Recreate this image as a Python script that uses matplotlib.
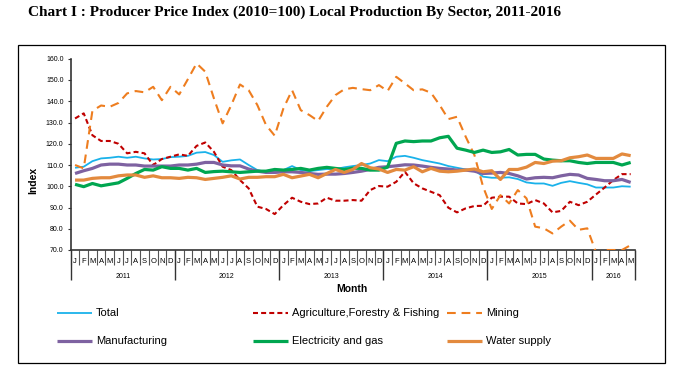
import matplotlib
matplotlib.use("Agg")
import matplotlib.pyplot as plt
from matplotlib.lines import Line2D
from matplotlib.patches import Rectangle
import numpy as np

# ---------------------------------------------------------------
# data, Jan 2011 .. May 2016 (65 months)
years = ["2011", "2012", "2013", "2014", "2015", "2016"]
months_per_year = [12, 12, 12, 12, 12, 5]
month_letters = ["J", "F", "M", "A", "M", "J", "J", "A", "S", "O", "N", "D"]

total = [108.7, 109.2, 111.8, 113.1, 113.4, 113.9, 113.4, 113.9, 113.1, 112.6, 112.8, 113.7,
         113.9, 114.3, 115.8, 116.1, 114.7, 111.5, 112.2, 112.6, 110.0, 107.6, 106.8, 106.8,
         107.6, 109.5, 107.6, 107.1, 107.6, 108.1, 108.1, 108.9, 109.5, 110.0, 110.7, 112.3,
         111.8, 113.9, 114.3, 113.4, 112.3, 111.5, 110.7, 109.5, 108.7, 107.9, 107.6, 104.5,
         104.0, 104.0, 104.2, 103.4, 101.8, 101.3, 101.3, 100.2, 101.6, 102.4, 101.6, 100.9,
         99.4, 99.4, 99.4, 100.0, 99.8]
agriculture = [131.9, 134.3, 124.0, 121.3, 121.3, 120.0, 115.5, 116.2, 115.5, 110.0, 112.8, 113.9,
               115.0, 114.3, 119.0, 120.6, 116.2, 109.2, 107.6, 102.9, 99.0, 90.4, 89.3, 86.9,
               91.1, 94.6, 92.7, 91.6, 91.9, 94.6, 93.2, 93.2, 93.5, 93.2, 98.2, 100.1,
               99.8, 102.1, 106.8, 101.4, 99.0, 97.4, 95.8, 89.9, 87.7, 89.6, 90.7, 90.8,
               94.6, 95.1, 95.1, 91.9, 91.6, 93.5, 91.9, 87.7, 88.4, 92.7, 91.1, 92.7,
               96.1, 99.4, 102.9, 105.7, 105.7]
mining = [110.0, 108.4, 135.5, 138.0, 137.4, 139.2, 143.7, 144.8, 144.2, 146.8, 140.5, 146.8,
          143.2, 150.4, 157.8, 153.9, 141.3, 129.6, 138.2, 147.9, 145.2, 138.2, 128.8, 123.8,
          136.6, 145.2, 135.8, 133.5, 130.7, 137.4, 142.9, 145.6, 146.3, 145.7, 145.2, 147.6,
          144.8, 151.5, 148.4, 145.2, 145.6, 144.0, 138.2, 131.6, 132.7, 123.3, 114.7, 99.8,
          89.3, 95.8, 91.9, 98.2, 94.3, 81.0, 80.2, 77.8, 81.0, 83.8, 79.5, 80.2,
          69.0, 70.0, 70.0, 70.0, 72.3]
manufacturing = [106.0, 107.3, 108.4, 110.0, 110.4, 110.4, 110.0, 110.0, 109.5, 109.5, 109.5, 109.5,
                 110.0, 110.0, 110.4, 111.2, 111.2, 110.0, 109.6, 109.6, 108.1, 107.1, 106.5, 106.5,
                 106.8, 106.8, 106.5, 106.0, 105.6, 105.7, 105.7, 106.0, 106.5, 107.1, 107.9, 108.9,
                 109.2, 109.6, 110.1, 110.0, 109.5, 108.9, 108.4, 108.1, 107.6, 107.6, 107.1, 106.0,
                 106.2, 106.5, 106.0, 104.9, 103.4, 104.0, 104.2, 104.0, 104.9, 105.6, 105.3, 103.7,
                 103.2, 102.6, 102.6, 103.2, 101.8]
electricity = [100.9, 99.8, 101.3, 100.2, 100.9, 101.6, 103.7, 106.0, 107.9, 107.6, 109.2, 108.4,
               108.4, 107.6, 108.4, 106.5, 106.9, 107.1, 106.8, 106.5, 106.8, 107.1, 107.1, 107.9,
               107.6, 107.9, 108.4, 107.6, 108.4, 108.9, 108.4, 107.9, 108.5, 108.4, 107.6, 107.6,
               109.0, 120.2, 121.3, 121.0, 121.3, 121.3, 122.8, 123.5, 117.9, 117.0, 115.9, 117.0,
               115.9, 116.2, 117.3, 114.7, 115.0, 115.0, 112.8, 112.3, 112.0, 112.0, 111.2, 110.7,
               111.2, 111.2, 111.2, 110.0, 111.2]
water = [102.9, 102.9, 103.7, 104.0, 104.0, 104.9, 105.3, 105.3, 104.2, 104.9, 104.0, 104.0,
         103.7, 104.2, 104.0, 103.2, 103.7, 104.2, 104.9, 103.4, 104.2, 104.2, 104.5, 104.5,
         105.6, 104.0, 104.8, 105.6, 104.0, 106.0, 107.9, 106.5, 107.9, 110.7, 108.7, 108.1,
         106.5, 107.9, 107.6, 109.2, 106.8, 108.4, 107.1, 106.8, 107.1, 107.6, 108.1, 106.8,
         107.3, 103.2, 107.9, 107.9, 109.0, 111.2, 110.7, 111.8, 112.0, 113.4, 113.9, 114.7,
         113.1, 113.1, 113.1, 115.2, 114.4]
# ---------------------------------------------------------------

W, H = 682, 375
fig = plt.figure(figsize=(W / 100, H / 100), dpi=100)
plt.rcParams['font.family'] = ['Liberation Sans', 'DejaVu Sans']

# plot area in pixels: x 70.7..635, y 58.75..250
ax = fig.add_axes([70.7 / W, 1 - 250 / H, (635 - 70.7) / W, (250 - 58.75) / H])

month_labels = [month_letters[k] for n in months_per_year for k in range(n)]
x = np.arange(len(month_labels))

series = [
    (total, "Total", "#1AB2EA", 1.3, "-"),
    (agriculture, "Agriculture,Forestry & Fishing", "#C00000", 1.5, (0, (2.4, 1.5))),
    (mining, "Mining", "#EE7D1F", 1.5, (0, (4.2, 2.8))),
    (manufacturing, "Manufacturing", "#7E62A1", 2.3, "-"),
    (electricity, "Electricity and gas", "#00A650", 2.3, "-"),
    (water, "Water supply", "#E38A3E", 2.3, "-"),
]
draw_order = [3, 4, 0, 5, 1, 2]
for k in draw_order:
    vals, lab, col, lw, ls = series[k]
    ax.plot(x, vals, color=col, lw=lw, linestyle=ls, solid_capstyle='butt',
            dash_capstyle='butt', zorder=2 + k)

ax.set_xlim(-0.5, len(x) - 0.5)
ax.set_ylim(70, 160)
ax.set_yticks(np.arange(70, 161, 10))
ax.set_yticklabels(["%.1f" % v for v in np.arange(70, 161, 10)], fontsize=5)
ax.tick_params(axis='y', direction='out', length=2.2, width=0.8, pad=3, color='#333333')

for s in ['top', 'right']:
    ax.spines[s].set_visible(False)
for s in ['left', 'bottom']:
    ax.spines[s].set_color('#333333')
    ax.spines[s].set_linewidth(1.2)

# month letters at category centres, separators between them
ax.set_xticks(x)
ax.set_xticklabels(month_labels, fontsize=5.5)
ax.tick_params(axis='x', which='major', length=0, pad=6)
ax.set_xticks(np.arange(-0.5, len(x), 1.0), minor=True)
ax.tick_params(axis='x', which='minor', direction='out', length=10.5, width=0.8, color='#555555')

# year separators and year labels
bounds = np.concatenate([[0], np.cumsum(months_per_year)]) - 0.5
ax.vlines(bounds, -30 / 191.25, 0, transform=ax.get_xaxis_transform(),
          colors='#333333', lw=1.0, clip_on=False)
for yr, a, b in zip(years, bounds[:-1], bounds[1:]):
    ax.text((a + b) / 2, -26 / 191.25, yr, transform=ax.get_xaxis_transform(),
            ha='center', va='center', fontsize=5)

# axis titles
fig.text(352 / W, 1 - 289 / H, "Month", ha='center', va='center',
         fontsize=7.5, fontweight='bold')
fig.text(33 / W, 1 - 180 / H, "Index", ha='center', va='center', rotation=90,
         fontsize=7.5, fontweight='bold')

# chart title
fig.text(28 / W, 1 - 12 / H, "Chart I : Producer Price Index (2010=100) Local Production By Sector, 2011-2016",
         ha='left', va='center', fontsize=11, fontweight='bold',
         family=['Liberation Serif', 'DejaVu Serif'])

# legend drawn by hand, three columns, two rows
col_x = [57, 253, 447]
row_y = [313, 341]
for k, (vals, lab, col, lw, ls) in enumerate(series):
    cx = col_x[k % 3]
    cy = row_y[k // 3]
    fig.add_artist(Line2D([cx / W, (cx + 35) / W], [1 - cy / H, 1 - cy / H],
                          transform=fig.transFigure, color=col, lw=lw, linestyle=ls,
                          solid_capstyle='butt', dash_capstyle='butt'))
    fig.text((cx + 39) / W, 1 - cy / H, lab, ha='left', va='center', fontsize=8)

# outer chart border
fig.add_artist(Rectangle((18 / W, 1 - 363 / H), (665 - 18) / W, (363 - 45) / H,
                         transform=fig.transFigure, fill=False, lw=0.9, edgecolor='black'))

fig.savefig("out.png", dpi=100)
